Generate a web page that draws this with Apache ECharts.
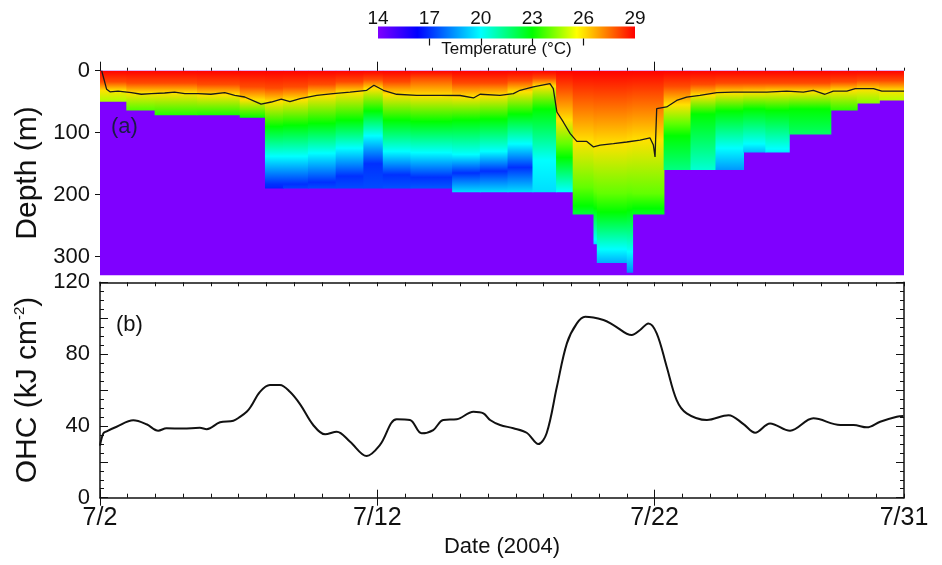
<!DOCTYPE html>
<html><head><meta charset="utf-8">
<script src="https://cdn.jsdelivr.net/npm/echarts@6/dist/echarts.min.js"></script>
<style>html,body{margin:0;padding:0;background:#fff}#c{width:942px;height:565px}</style>
</head><body><div id="c"></div>
<script>
// ---------------- data ----------------
const dateTicks = [0, 10, 20, 29];
const dateLabels = ['7/2', '7/12', '7/22', '7/31'];
const depthTicks = [0, 100, 200, 300];
const ohcTicks = [0, 40, 80, 120];
const tempTicks = [14, 17, 20, 23, 26, 29];
// colour scale of the temperature bar (temperature where each colour sits)
const colorTemps = [14, 16.3, 20, 23, 25.6, 29];
const colorList = ['#7f00ff', '#0000ff', '#00ffff', '#00ff00', '#ffff00', '#ff0000'];

// temperature profile columns (days after 7/2); isoNN = depth (m) of the NN degC level
const colStart    = [0, 0.95, 1.97, 3.5, 5.04, 5.95, 6.6, 7.5, 8.5, 9.5, 10.2, 11.2, 12.7, 13.7, 14.7, 15.6, 16.45, 17.05, 17.8, 17.92, 19.0, 19.2, 20.33, 21.3, 22.2, 23.2, 24.0, 24.85, 26.35, 27.3, 28.1];
const colEnd      = [0.95, 1.97, 3.5, 5.04, 5.95, 6.6, 7.5, 8.5, 9.5, 10.2, 11.2, 12.7, 13.7, 14.7, 15.6, 16.45, 17.05, 17.8, 17.92, 19.0, 19.2, 20.33, 21.3, 22.2, 23.2, 24.0, 24.85, 26.35, 27.3, 28.1, 29];
const sst         = [29.5, 29.5, 29.5, 29.5, 29.5, 29.5, 29.5, 29.5, 29.5, 29.5, 29.5, 29, 29.5, 29.5, 29.5, 29.5, 29.5, 29.5, 29.5, 29.5, 29.5, 29.5, 29.5, 29.5, 29.5, 29.5, 29.5, 29.5, 29.5, 29.5, 29.5];
const iso28       = [18, 20, 20, 22, 26, 28, 26, 22, 18, 14, 18, 12, 20, 20, 16, 12, 28, 38, 40, 40, 38, 36, 25, 22, 20, 20, 20, 20, 18, 16, 16];
const iso26       = [32, 36, 36, 39, 47, 50, 47, 40, 35, 29, 38, 40, 42, 40, 34, 25, 80, 114, 120, 118, 115, 112, 55, 40, 36, 35, 34, 34, 32, 30, 32];
const iso24       = [null, null, null, null, null, null, null, null, null, null, null, null, null, null, null, null, 118, 188, 195, 198, 196, 198, 85, null, null, null, null, null, null, null, null];
const iso23       = [null, null, null, null, null, 90, 88, 85, 80, 65, 80, 82, 80, 78, 70, 62, 140, 218, 222, 228, 225, 222, 105, 70, 65, 62, 64, 62, null, null, null];
const iso20       = [null, null, null, null, null, 138, 138, 133, 125, 105, 130, 132, 135, 130, 118, 145, 195, null, 272, 288, 292, null, null, null, 125, 118, 126, null, null, null, null];
const iso17       = [null, null, null, null, null, 183, 183, 180, 170, 150, 168, 172, 165, 162, 156, null, null, null, null, null, null, null, null, null, null, null, null, null, null, null, null];
const bottomDepth = [50, 64, 72, 72, 76, 190, 190, 190, 190, 190, 190, 190, 196, 196, 196, 196, 196, 232, 280, 310, 326, 232, 160, 160, 160, 132, 132, 103, 64, 53, 48];
const bottomTemp  = [24.7, 23.8, 23.3, 23.2, 23, 16.8, 17.3, 17.4, 17.4, 17.4, 17.5, 17.6, 19.5, 19.5, 19.5, 19.5, 20, 22.3, 19.5, 18.8, 18.3, 22.6, 21.5, 20.5, 18.5, 19, 19.7, 21.8, 23.4, 24.3, 24.8];

// 26 degC isotherm (black contour)
const contourDay   = [0.06, 0.24, 0.36, 0.65, 1.13, 1.49, 1.85, 2.33, 2.69, 3.06, 3.54, 4.0, 4.5, 4.86, 5.22, 5.58, 5.81, 6.18, 6.54, 6.85, 7.22, 7.82, 8.41, 9.02, 9.62, 9.88, 10.22, 10.7, 11.42, 12.27, 12.99, 13.47, 13.71, 14.43, 14.91, 15.15, 15.63, 16.23, 16.35, 16.48, 16.71, 16.96, 17.2, 17.56, 17.8, 18.04, 18.52, 19.0, 19.48, 19.84, 19.96, 20.02, 20.08, 20.44, 20.8, 21.16, 21.64, 22.25, 22.85, 24.05, 24.77, 25.37, 25.73, 26.15, 26.45, 26.94, 27.24, 27.9, 28.2, 29.0];
const contourDepth = [0, 30, 34, 33, 35.5, 38, 37, 36, 34.4, 37, 37, 38, 35.5, 39.7, 42.4, 49.4, 54, 50.5, 46, 50, 45, 39.7, 37, 34.4, 31.6, 23.5, 31.6, 38, 39.7, 39.7, 40, 44, 38, 39.7, 37, 31.6, 26, 21, 29, 66.6, 82.7, 101.6, 114, 114, 123, 120, 117.7, 115, 112, 108.5, 120, 139, 61, 58.5, 48, 42.5, 39.7, 35.5, 34.4, 34.4, 32.8, 34.4, 31.6, 38, 33, 33, 29, 29, 33, 33];

// ocean heat content
const ohcDay   = [0.0, 0.12, 0.24, 0.6, 1.2, 1.68, 2.1, 2.4, 3.0, 3.6, 3.85, 4.33, 4.81, 5.05, 5.3, 5.45, 5.77, 6.13, 6.49, 6.85, 7.22, 7.69, 8.12, 8.54, 9.02, 9.62, 10.1, 10.7, 11.18, 11.6, 12.02, 12.38, 12.87, 13.47, 13.83, 14.07, 14.43, 14.91, 15.39, 15.81, 16.11, 16.48, 16.84, 17.2, 17.5, 18.16, 18.52, 19.18, 19.48, 19.78, 20.08, 20.44, 20.8, 21.16, 21.89, 22.67, 23.21, 23.63, 24.17, 24.89, 25.73, 26.7, 27.18, 27.66, 28.14, 28.74, 28.98];
const ohcValue = [29, 35.8, 37, 39.5, 43.1, 40.9, 37.3, 38.7, 38.5, 39, 38.2, 42, 42.9, 45, 48, 51, 59, 62.8, 62.8, 59, 52, 40.5, 35.3, 36.8, 31.2, 23.2, 29.4, 43.7, 43.3, 35.9, 37.7, 43.3, 43.7, 47.9, 47, 43.3, 40.5, 38.7, 36.2, 29.9, 35.9, 61.8, 86, 97.1, 100.8, 99, 96.2, 90.6, 93.4, 97.1, 91.6, 73, 54.4, 47, 43.3, 46, 41, 36.2, 41.4, 37.3, 44.2, 40.5, 40.5, 39.2, 42.3, 45.1, 45.5];

// ---------------- chart ----------------
const FONT = 'Liberation Sans, Arial, sans-serif';
const INK = '#111';
const tMin = tempTicks[0], tMax = tempTicks[tempTicks.length - 1];
function tempColor(t) {
  if (t <= colorTemps[0]) return colorList[0];
  for (let k = 1; k < colorTemps.length; k++) {
    if (t <= colorTemps[k]) {
      const f = (t - colorTemps[k - 1]) / (colorTemps[k] - colorTemps[k - 1]);
      return echarts.color.lerp(f, [colorList[k - 1], colorList[k]]);
    }
  }
  return colorList[colorList.length - 1];
}

const chart = echarts.init(document.getElementById('c'), null, {renderer: 'canvas'});

const hidden = {show: false};
function dayAxis(grid, pos, opts) {
  return Object.assign({
    type: 'value', gridIndex: grid, position: pos, min: 0, max: 29, interval: 1,
    axisLine: hidden, splitLine: hidden, axisLabel: hidden,
    axisTick: {show: true, inside: true, length: 4, lineStyle: {color: INK, width: 1}}
  }, opts);
}

const option = {
  animation: false,
  backgroundColor: '#fff',
  textStyle: {fontFamily: FONT},
  grid: [
    {left: 100, right: 38, top: 70.7, height: 204.6, show: true, backgroundColor: colorList[0], borderWidth: 0},
    {left: 100, right: 38, top: 282.3, height: 215.4},
    {left: 378, width: 257, top: 26.5, height: 12}
  ],
  xAxis: [
    dayAxis(0, 'top', {axisTick: {show: true, inside: false, length: 3, lineStyle: {color: INK}}}),
    dayAxis(0, 'top', {axisTick: {show: true, inside: false, length: 9, customValues: [0, 10, 20], lineStyle: {color: INK}}}),
    dayAxis(1, 'bottom', {
      axisLine: {show: true, onZero: false, lineStyle: {color: INK, width: 1.5}},
      axisLabel: {show: true, customValues: dateTicks, fontSize: 25, color: INK, margin: 8,
        formatter: v => dateLabels[dateTicks.indexOf(v)]},
      name: 'Date (2004)', nameLocation: 'middle', nameGap: 38,
      nameTextStyle: {fontSize: 22, color: INK}
    }),
    dayAxis(1, 'bottom', {axisTick: {show: true, inside: true, length: 8, customValues: [0, 10, 20], lineStyle: {color: INK}}}),
    dayAxis(1, 'top', {axisLine: {show: true, onZero: false, lineStyle: {color: INK, width: 1.5}}}),
    dayAxis(1, 'top', {axisTick: {show: true, inside: true, length: 8, customValues: [0, 10, 20], lineStyle: {color: INK}}}),
    {type: 'value', gridIndex: 2, position: 'top', min: tMin, max: tMax, interval: 3, z: 10,
      axisLine: hidden, splitLine: hidden,
      axisTick: {show: true, inside: true, length: 7, customValues: [17, 20, 23, 26], lineStyle: {color: INK, width: 1.2}},
      axisLabel: {show: true, fontSize: 19, color: INK, margin: -2}},
    {type: 'value', gridIndex: 2, position: 'bottom', min: tMin, max: tMax,
      axisLine: hidden, splitLine: hidden, axisTick: hidden, axisLabel: hidden,
      name: 'Temperature (°C)', nameLocation: 'middle', nameGap: 2,
      nameTextStyle: {fontSize: 17, color: INK}}
  ],
  yAxis: [
    {type: 'value', gridIndex: 0, inverse: true, min: 0, max: 330, interval: 100,
      axisLine: hidden, splitLine: hidden,
      axisTick: {show: true, inside: false, length: 5, customValues: depthTicks, lineStyle: {color: INK}},
      axisLabel: {show: true, customValues: depthTicks, fontSize: 22, color: INK, margin: 10},
      name: 'Depth (m)', nameLocation: 'middle', nameGap: 55, nameRotate: 90,
      nameTextStyle: {fontSize: 30, color: INK}},
    {type: 'value', gridIndex: 1, position: 'left', min: 0, max: 120, interval: 20,
      axisLine: {show: true, onZero: false, lineStyle: {color: INK, width: 1.5}}, splitLine: hidden,
      axisTick: {show: true, inside: true, length: 8, lineStyle: {color: INK}},
      minorTick: {show: true, splitNumber: 4, length: 4, lineStyle: {color: INK}},
      axisLabel: {show: true, customValues: ohcTicks, fontSize: 22, color: INK, margin: 10},
      name: 'OHC (kJ cm{sup|-2})', nameLocation: 'middle', nameGap: 53, nameRotate: 90,
      nameTextStyle: {fontSize: 30, color: INK,
        rich: {sup: {fontSize: 15, color: INK, verticalAlign: 'top', padding: [0, 0, 10, 0]}}}},
    {type: 'value', gridIndex: 1, position: 'right', min: 0, max: 120, interval: 20,
      axisLine: {show: true, onZero: false, lineStyle: {color: INK, width: 1.5}}, splitLine: hidden,
      axisTick: {show: true, inside: true, length: 8, lineStyle: {color: INK}},
      minorTick: {show: true, splitNumber: 4, length: 4, lineStyle: {color: INK}},
      axisLabel: hidden},
    {type: 'value', gridIndex: 2, min: 0, max: 1, show: false}
  ],
  graphic: [
    {type: 'text', left: 111, top: 116, style: {text: '(a)', fontSize: 22, fill: '#1b1b48', fontFamily: FONT}},
    {type: 'text', left: 116, top: 314, style: {text: '(b)', fontSize: 22, fill: INK, fontFamily: FONT}}
  ],
  series: [
    {
      type: 'custom', xAxisIndex: 0, yAxisIndex: 0, clip: true, silent: true,
      data: colStart.map((s, i) => [s, colEnd[i], bottomDepth[i], i]),
      encode: {x: [0, 1], y: 2},
      renderItem: function (params, api) {
        const i = api.value(3);
        const bottom = api.value(2);
        const p0 = api.coord([api.value(0), 0]);
        const p1 = api.coord([api.value(1), bottom]);
        const knots = [[0, sst[i]], [iso28[i], 28], [iso26[i], 26], [iso24[i], 24], [iso23[i], 23],
          [iso20[i], 20], [iso17[i], 17], [bottom, bottomTemp[i]]]
          .filter(k => k[0] != null && k[0] <= bottom);
        const stops = knots.map(k => ({offset: k[0] / bottom, color: tempColor(k[1])}));
        return {
          type: 'rect',
          shape: {x: p0[0], y: p0[1], width: p1[0] - p0[0] + 0.8, height: p1[1] - p0[1]},
          style: {fill: new echarts.graphic.LinearGradient(0, 0, 0, 1, stops)}
        };
      }
    },
    {
      type: 'line', xAxisIndex: 0, yAxisIndex: 0, showSymbol: false, silent: true,
      data: contourDay.map((d, i) => [d, contourDepth[i]]),
      lineStyle: {color: '#1a1a1a', width: 1.3}, z: 5
    },
    {
      type: 'line', xAxisIndex: 2, yAxisIndex: 1, showSymbol: false, silent: true, smooth: 0.35,
      data: ohcDay.map((d, i) => [d, ohcValue[i]]),
      lineStyle: {color: INK, width: 2}
    },
    {
      type: 'custom', xAxisIndex: 6, yAxisIndex: 3, silent: true,
      data: [[tMin, tMax]],
      encode: {x: [0, 1]},
      renderItem: function (params, api) {
        const p0 = api.coord([api.value(0), 1]);
        const p1 = api.coord([api.value(1), 0]);
        return {
          type: 'rect',
          shape: {x: p0[0], y: p0[1], width: p1[0] - p0[0], height: p1[1] - p0[1]},
          style: {fill: new echarts.graphic.LinearGradient(0, 0, 1, 0,
            colorTemps.map((t, k) => ({offset: (t - tMin) / (tMax - tMin), color: colorList[k]})))}
        };
      }
    }
  ]
};
chart.setOption(option);
</script>
</body></html>
